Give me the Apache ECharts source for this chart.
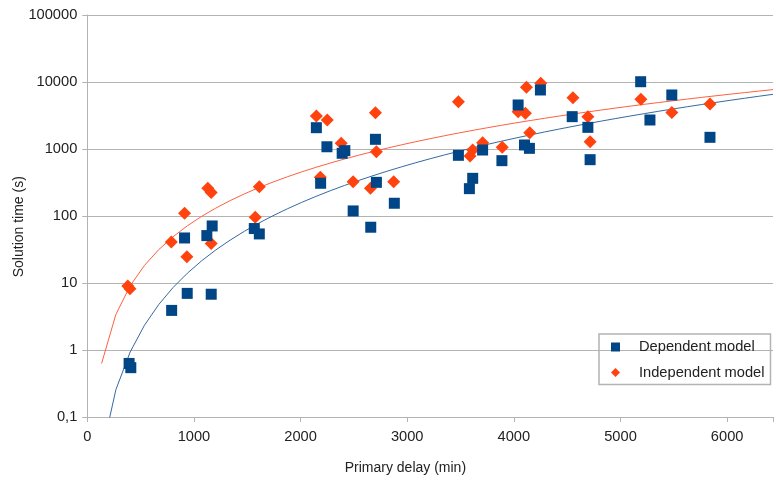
<!DOCTYPE html>
<html>
<head>
<meta charset="utf-8">
<script src="https://cdn.jsdelivr.net/npm/echarts@6/dist/echarts.min.js"></script>
<style>
html,body{margin:0;padding:0;background:#fff;}
#chart{width:776px;height:482px;}
</style>
</head>
<body>
<div id="chart"></div>
<script>
// Dependent model (blue squares)
var depX = [392, 408, 791, 937, 1162, 912, 1121, 1171, 1566, 1613, 2148, 2247, 2390, 2415, 2702, 2188, 2711, 2493, 2879, 2658, 3480, 3614, 3583, 3707, 3888, 4040, 4100, 4146, 4249, 4547, 4694, 4715, 5189, 5276, 5481, 5839];
var depY = [0.63, 0.545, 3.9, 7.0, 6.8, 47, 51, 71, 65, 54, 2080, 1080, 863, 945, 1395, 308, 318, 119, 155, 68, 805, 365, 256, 966, 670, 4540, 1148, 1023, 7600, 3040, 2105, 693, 10100, 2710, 6400, 1494];
// Independent model (red diamonds)
var indX = [380, 400, 788, 912, 934, 1162, 1575, 1130, 1162, 1613, 2148, 2250, 2381, 2185, 2493, 2655, 2702, 2711, 2873, 3480, 3589, 3614, 3707, 3891, 4040, 4108, 4118, 4149, 4252, 4554, 4694, 4715, 5191, 5481, 5839];
var indY = [9.0, 8.2, 41, 110, 24.7, 39, 96, 259, 225, 274, 3110, 2710, 1217, 380, 325, 259, 3480, 912, 325, 5080, 787, 966, 1242, 1060, 3600, 3410, 8330, 1753, 9560, 5830, 3040, 1286, 5510, 3520, 4700];

var seriesNames = ['Dependent model', 'Independent model'];
var xTicks = [0, 1000, 2000, 3000, 4000, 5000, 6000];
var yTicks = [0.1, 1, 10, 100, 1000, 10000, 100000];
var xTitle = 'Primary delay (min)';
var yTitle = 'Solution time (s)';
var X_MAX = 6430;

function pairs(xs, ys){ return xs.map(function(x,i){ return [x, ys[i]]; }); }

// Power trendline (least squares in log-log space), sampled like the source
function powerTrend(xs, ys){
  var n = xs.length, sx=0, sy=0, sxx=0, sxy=0;
  for (var i=0;i<n;i++){
    var lx=Math.log(xs[i]), ly=Math.log(ys[i]);
    sx+=lx; sy+=ly; sxx+=lx*lx; sxy+=lx*ly;
  }
  var b=(n*sxy-sx*sy)/(n*sxx-sx*sx);
  var a=Math.exp((sy-b*sx)/n);
  var pts=[], steps=48;
  for (var k=1;k<=steps;k++){
    var x=X_MAX*k/steps;
    pts.push([x, a*Math.pow(x,b)]);
  }
  return pts;
}

var BLUE='#004586', RED='#ff420e';
var FONT='Liberation Sans';

var chart = echarts.init(document.getElementById('chart'), null, {renderer:'canvas'});
chart.setOption({
  animation:false,
  backgroundColor:'#ffffff',
  textStyle:{fontFamily:FONT},
  grid:{left:87.3, right:0, top:15, bottom:65, containLabel:false},
  xAxis:{
    type:'value', min:0, max:X_MAX, interval:1000,
    axisLine:{show:true, lineStyle:{color:'#b3b3b3', width:1}},
    axisTick:{show:true, length:5, lineStyle:{color:'#b3b3b3'}},
    axisLabel:{color:'#222222', fontSize:14.67, margin:12, fontFamily:FONT,
      formatter:function(v){ return xTicks.indexOf(v)>=0 ? String(v) : ''; }},
    splitLine:{show:false}
  },
  yAxis:{
    type:'log', logBase:10, min:yTicks[0], max:yTicks[yTicks.length-1],
    axisLine:{show:true, lineStyle:{color:'#b3b3b3', width:1}},
    axisTick:{show:true, length:5, lineStyle:{color:'#b3b3b3'}},
    axisLabel:{color:'#222222', fontSize:14.67, margin:10, fontFamily:FONT,
      formatter:function(v){ return String(v).replace('.', ','); }},
    splitLine:{show:true, lineStyle:{color:'#b3b3b3', width:1}}
  },
  legend:{
    orient:'vertical', left:599, top:334,
    padding:[5,6,4,12], borderColor:'#b3b3b3', borderWidth:1.5,
    itemWidth:9, itemHeight:9, itemGap:9.6,
    itemStyle:{opacity:1},
    textStyle:{fontSize:14.67, color:'#222222', fontFamily:FONT, lineHeight:16, padding:[0,0,0,14]},
    data:[{name:seriesNames[0], icon:'rect'},{name:seriesNames[1], icon:'diamond'}]
  },
  graphic:[
    {type:'text', left:405.7-61, top:461, style:{text:xTitle, fontSize:14, fill:'#222222', fontFamily:FONT}},
    {type:'text', x:18.8, y:226.7, rotation:Math.PI/2,
      style:{text:yTitle, fontSize:14, fill:'#222222', fontFamily:FONT, align:'center', verticalAlign:'middle'}}
  ],
  series:[
    {type:'line', data:powerTrend(depX, depY), showSymbol:false, symbol:'none', smooth:false, clip:true,
      lineStyle:{color:'#3469a0', width:1}, z:1, silent:true},
    {type:'line', data:powerTrend(indX, indY), showSymbol:false, symbol:'none', smooth:false, clip:true,
      lineStyle:{color:'#ff6040', width:1}, z:1, silent:true},
    {name:seriesNames[1], type:'scatter', data:pairs(indX, indY), symbol:'diamond', symbolSize:13,
      itemStyle:{color:RED, opacity:1}, z:2},
    {name:seriesNames[0], type:'scatter', data:pairs(depX, depY), symbol:'rect', symbolSize:11,
      itemStyle:{color:BLUE, opacity:1}, z:3}
  ]
});
</script>
</body>
</html>
